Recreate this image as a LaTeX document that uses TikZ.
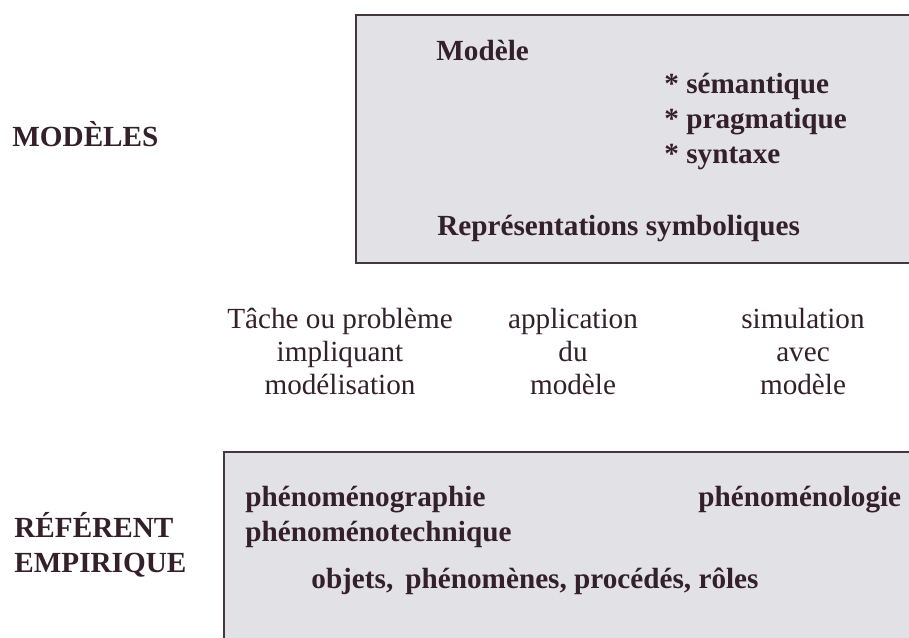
\documentclass[tikz,border=0pt]{standalone}
\usepackage{fontspec}
\setmainfont{Liberation Serif}
\usepackage{tikz}
\usetikzlibrary{positioning}
\definecolor{inkcol}{RGB}{52,32,42}
\definecolor{panelfill}{RGB}{226,225,229}
\definecolor{panelline}{RGB}{68,54,66}
\tikzset{panel/.style={draw=panelline,fill=panelfill,line width=1.1pt}}
\tikzset{boxtext/.style={anchor=base west,inner sep=0pt,text=inkcol,font=\fontsize{14.6}{17.5}\selectfont\bfseries}}
\tikzset{sidetext/.style={boxtext,align=left}}
\tikzset{midtext/.style={anchor=base,inner sep=0pt,text=inkcol,align=center,font=\fontsize{14.6}{16.4}\selectfont}}

\begin{document}
\begin{tikzpicture}[x=0.5pt,y=-0.5pt]
        \clip (0,0) rectangle (909,637);
        \fill[white] (0,0) rectangle (909,637);

        \draw[panel] (356,15) rectangle (930,263);
        \draw[panel] (224,452) rectangle (930,660);

        \node[boxtext] (mdl) at (436,60) {Modèle};
        \node[boxtext] (sem) at (664,93) {* sémantique};
        \node[boxtext] (prg) at (664,128) {* pragmatique};
        \node[boxtext] (syn) at (664,163) {* syntaxe};
        \node[boxtext] (rep) at (437,235) {Représentations symboliques};

        \node[sidetext] (mods) at (12,146) {MODÈLES};
        \node[sidetext] (ref) at (14,572) {RÉFÉRENT\\EMPIRIQUE};

        \node[midtext] (tache) at (340,394) {Tâche ou problème\\impliquant\\modélisation};
        \node[midtext] (appl) at (573,394) {application\\du\\modèle};
        \node[midtext] (simu) at (803,394) {simulation\\avec\\modèle};

        \node[boxtext] (phg) at (245,506) {phénoménographie};
        \node[boxtext] (pht) at (245,541) {phénoménotechnique};
        \node[boxtext] (phl) at (698,506) {phénoménologie};
        \node[boxtext] (obj) at (311,588) {objets,\, phénomènes, procédés, rôles};
    \end{tikzpicture}
\end{document}
